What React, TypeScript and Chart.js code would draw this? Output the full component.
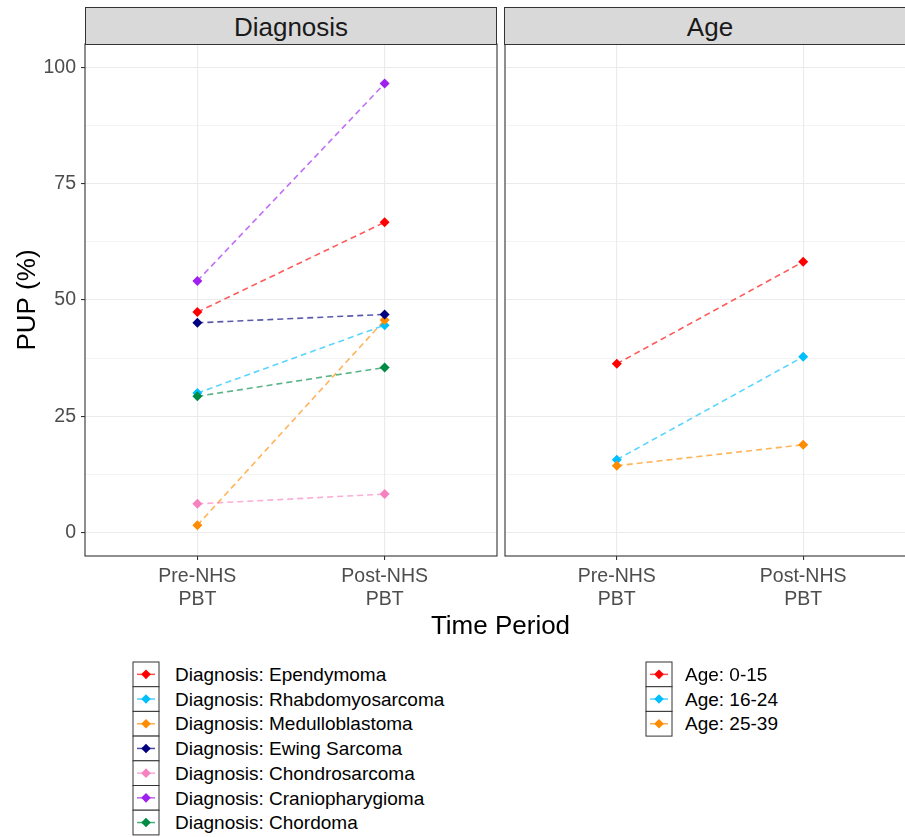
import React, { useEffect, useRef } from 'react';
import { Chart, registerables } from 'chart.js';

Chart.register(...registerables);

const FONT = '"Liberation Sans", Arial, sans-serif';

const periodLabels = [['Pre-NHS', 'PBT'], ['Post-NHS', 'PBT']];
const periodX = [1, 2];

const diagnosisNames = [
  'Diagnosis: Ependymoma',
  'Diagnosis: Rhabdomyosarcoma',
  'Diagnosis: Medulloblastoma',
  'Diagnosis: Ewing Sarcoma',
  'Diagnosis: Chondrosarcoma',
  'Diagnosis: Craniopharygioma',
  'Diagnosis: Chordoma',
];
const diagnosisPre = [47.4, 30.0, 1.6, 45.1, 6.2, 54.1, 29.3];
const diagnosisPost = [66.7, 44.6, 45.7, 46.9, 8.3, 96.5, 35.5];
const diagnosisColors = ['#FF0000', '#00BFFF', '#FF8C00', '#000080', '#F781BF', '#A020F0', '#008B45'];

const ageNames = ['Age: 0-15', 'Age: 16-24', 'Age: 25-39'];
const agePre = [36.3, 15.7, 14.4];
const agePost = [58.2, 37.8, 18.9];
const ageColors = ['#FF0000', '#00BFFF', '#FF8C00'];

const yTicks = [0, 12.5, 25, 37.5, 50, 62.5, 75, 87.5, 100];
const yMajorStep = 25;

function withAlpha(hex: string, a: number) {
  const r = parseInt(hex.slice(1, 3), 16);
  const g = parseInt(hex.slice(3, 5), 16);
  const b = parseInt(hex.slice(5, 7), 16);
  return `rgba(${r},${g},${b},${a})`;
}

function makeDatasets(names: string[], pre: number[], post: number[], colors: string[]) {
  return names.map((n, i) => ({
    label: n,
    data: [
      { x: periodX[0], y: pre[i] },
      { x: periodX[1], y: post[i] },
    ],
    borderColor: withAlpha(colors[i], 0.65),
    backgroundColor: colors[i],
    pointBackgroundColor: colors[i],
    pointBorderColor: colors[i],
    pointStyle: 'rectRot',
    pointRadius: 5,
    pointBorderWidth: 0,
    borderWidth: 1.6,
    borderDash: [6, 4],
    order: names.length - i,
    fill: false,
    tension: 0,
  }));
}

const panelBorder = {
  id: 'panelBorder',
  afterDraw(chart: any) {
    const { ctx, chartArea: a } = chart;
    ctx.save();
    ctx.strokeStyle = '#333333';
    ctx.lineWidth = 1.1;
    ctx.strokeRect(a.left, a.top, a.right - a.left, a.bottom - a.top);
    ctx.restore();
  },
};

const isMajor = (v: number) => Math.abs(v % yMajorStep) < 1e-9;

function buildOptions(showY: boolean, padLeft: number, padRight: number) {
  return {
    animation: false,
    responsive: false,
    maintainAspectRatio: false,
    layout: { padding: { top: 44, right: padRight, left: padLeft, bottom: 0 } },
    plugins: { legend: { display: false }, tooltip: { enabled: false } },
    scales: {
      x: {
        type: 'linear',
        min: 0.4,
        max: 2.6,
        afterBuildTicks: (s: any) => {
          s.ticks = periodX.map((v) => ({ value: v }));
        },
        afterFit: (s: any) => {
          s.height = 104;
        },
        border: { display: false },
        grid: { color: '#EBEBEB', lineWidth: 1.1, tickLength: 4, tickColor: '#333333', drawTicks: true },
        ticks: {
          autoSkip: false,
          maxRotation: 0,
          padding: 5,
          color: '#4D4D4D',
          font: { family: FONT, size: 19.5 },
          callback: (v: number) => {
            const idx = periodX.indexOf(v);
            return idx >= 0 ? periodLabels[idx] : '';
          },
        },
      },
      y: {
        type: 'linear',
        min: -5,
        max: 105,
        afterBuildTicks: (s: any) => {
          s.ticks = yTicks.map((v) => ({ value: v }));
        },
        afterFit: (s: any) => {
          s.width = showY ? 85 : 0;
        },
        border: { display: false },
        grid: {
          color: '#EBEBEB',
          lineWidth: (c: any) => (c.tick && isMajor(c.tick.value) ? 1.1 : 0.55),
          tickLength: 4,
          drawTicks: showY,
          tickColor: (c: any) => (c.tick && isMajor(c.tick.value) ? '#333333' : 'rgba(0,0,0,0)'),
        },
        ticks: {
          display: showY,
          autoSkip: false,
          padding: 5,
          color: '#4D4D4D',
          font: { family: FONT, size: 19.5 },
          callback: (v: number) => (isMajor(v) ? String(v) : ''),
        },
        title: {
          display: showY,
          text: 'PUP (%)',
          color: '#000000',
          font: { family: FONT, size: 26 },
          padding: { top: 12, bottom: 0 },
        },
      },
    },
  };
}

function Panel(props: { names: string[]; pre: number[]; post: number[]; colors: string[]; showY: boolean; left: number; width: number; padLeft: number; padRight: number }) {
  const ref = useRef<HTMLCanvasElement | null>(null);
  useEffect(() => {
    if (!ref.current) return;
    const chart = new Chart(ref.current, {
      type: 'line',
      data: { datasets: makeDatasets(props.names, props.pre, props.post, props.colors) as any },
      options: buildOptions(props.showY, props.padLeft, props.padRight) as any,
      plugins: [panelBorder],
    });
    return () => chart.destroy();
  }, []);
  return (
    <canvas
      ref={ref}
      width={props.width}
      height={660}
      style={{ position: 'absolute', left: props.left, top: 0, width: props.width, height: 660 }}
    />
  );
}

function Strip(props: { text: string; left: number; width: number }) {
  return (
    <div
      style={{
        position: 'absolute',
        left: props.left,
        top: 7,
        width: props.width,
        height: 38,
        boxSizing: 'border-box',
        background: '#D9D9D9',
        border: '1.1px solid #333333',
        fontFamily: FONT,
        fontSize: 26,
        color: '#1A1A1A',
        textAlign: 'center',
        lineHeight: '38px',
      }}
    >
      {props.text}
    </div>
  );
}

function Legend(props: { names: string[]; colors: string[]; left: number; top: number; textLeft: number }) {
  const rowH = 24.7;
  const keyW = 26;
  const h = rowH * props.names.length;
  return (
    <>
      <svg
        width={keyW + 2}
        height={h + 2}
        style={{ position: 'absolute', left: props.left - 1, top: props.top - 1 }}
      >
        {props.names.map((n, i) => {
          const y = 1 + i * rowH;
          const cy = y + rowH / 2;
          const cx = 1 + keyW / 2;
          return (
            <g key={n}>
              <rect x={1} y={y} width={keyW} height={rowH} fill="white" stroke="#333333" strokeWidth={1} />
              <line x1={cx - 9} x2={cx + 9} y1={cy} y2={cy} stroke={withAlpha(props.colors[i], 0.7)} strokeWidth={1.5} />
              <polygon
                points={`${cx},${cy - 4.8} ${cx + 4.8},${cy} ${cx},${cy + 4.8} ${cx - 4.8},${cy}`}
                fill={props.colors[i]}
              />
            </g>
          );
        })}
      </svg>
      {props.names.map((n, i) => (
        <div
          key={n}
          style={{
            position: 'absolute',
            left: props.textLeft,
            top: props.top + i * rowH + 1,
            height: rowH,
            lineHeight: `${rowH}px`,
            fontFamily: FONT,
            fontSize: 19,
            color: '#000000',
            whiteSpace: 'nowrap',
          }}
        >
          {n}
        </div>
      ))}
    </>
  );
}

export default function App() {
  return (
    <div
      style={{
        position: 'absolute',
        left: 0,
        top: 0,
        width: 905,
        height: 837,
        overflow: 'hidden',
        background: '#FFFFFF',
      }}
    >
      <Panel names={diagnosisNames} pre={diagnosisPre} post={diagnosisPost} colors={diagnosisColors} showY={true} left={0} width={505} padLeft={0} padRight={8} />
      <Panel names={ageNames} pre={agePre} post={agePost} colors={ageColors} showY={false} left={500} width={420} padLeft={4} padRight={4} />
      <Strip text="Diagnosis" left={85} width={412} />
      <Strip text="Age" left={504} width={412} />
      <div
        style={{
          position: 'absolute',
          left: 300,
          width: 401,
          top: 609,
          textAlign: 'center',
          fontFamily: FONT,
          fontSize: 26,
          lineHeight: '32px',
          color: '#000000',
        }}
      >
        Time Period
      </div>
      <Legend names={diagnosisNames} colors={diagnosisColors} left={133} top={662} textLeft={175} />
      <Legend names={ageNames} colors={ageColors} left={646} top={662} textLeft={685} />
    </div>
  );
}
